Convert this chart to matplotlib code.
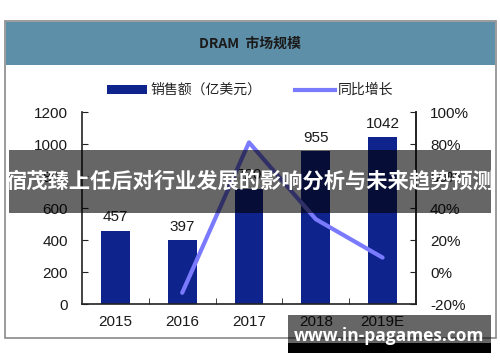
import matplotlib
matplotlib.use("Agg")
import matplotlib.pyplot as plt
from matplotlib.patches import Rectangle
from matplotlib.lines import Line2D

plt.rcParams['font.family'] = ['Liberation Sans', 'Noto Sans CJK SC', 'DejaVu Sans']

years = ["2015", "2016", "2017", "2018", "2019E"]
sales = [457, 397, 720, 955, 1042]
growth_years_idx = [1, 2, 3, 4]
growth = [-13, 81, 33, 9]
left_ticks = [0, 200, 400, 600, 800, 1000, 1200]
right_ticks = [-20, 0, 20, 40, 60, 80, 100]

W, H = 500, 362
fig = plt.figure(figsize=(W / 100, H / 100), dpi=100)
fig.patch.set_facecolor('white')

def px(x0, y0, x1, y1):
    return [x0 / W, 1 - y1 / H, (x1 - x0) / W, (y1 - y0) / H]

# frame and header
bg = fig.add_axes([0, 0, 1, 1])
bg.set_xlim(0, W); bg.set_ylim(H, 0); bg.axis('off')
bg.add_patch(Rectangle((5, 21), 491, 317, facecolor='white', edgecolor='#8a8a8a', lw=1.2))
bg.add_patch(Rectangle((5.6, 21.6), 489.8, 43, facecolor='#5E8FA8', edgecolor='none'))
bg.text(250, 44, "DRAM  市场规模", ha='center', va='center', fontsize=10, fontweight='bold',
        color='#1a1a1a', family=['Noto Sans CJK SC', 'DejaVu Sans'])
# legend
bg.add_patch(Rectangle((107, 85), 40, 9, facecolor='#0F238C', edgecolor='none'))
bg.text(150, 89.5, "销售额（亿美元）", ha='left', va='center', fontsize=10, color='#222222',
        family=['Noto Sans CJK SC', 'DejaVu Sans'])
bg.add_line(Line2D([295, 335], [89.5, 89.5], color='#7A7AFF', lw=3))
bg.text(338, 89.5, "同比增长", ha='left', va='center', fontsize=10, color='#222222',
        family=['Noto Sans CJK SC', 'DejaVu Sans'])

ax = fig.add_axes(px(82, 112, 416, 304))
x = list(range(len(years)))
ax.bar(x, sales, width=0.43, color='#0F238C', zorder=2)
for xi, v in zip(x, sales):
    ax.text(xi, v + 40, str(v), ha='center', va='bottom', fontsize=11, color='#1a1a1a')
ax.set_xlim(-0.5, 4.5)
ax.set_ylim(0, 1200)
ax.set_yticks(left_ticks)
ax.set_yticklabels([str(t) for t in left_ticks], fontsize=11, color='#1a1a1a')
ax.set_xticks(x)
ax.set_xticklabels(years, fontsize=11, color='#1a1a1a')
ax.tick_params(axis='x', length=0, pad=8)
ax.set_xticks([0.5, 1.5, 2.5, 3.5], minor=True)
ax.tick_params(axis='x', which='minor', direction='in', length=4, color='#222222')
ax.tick_params(axis='y', direction='in', length=4, pad=10, color='#222222')
ax.spines['top'].set_visible(False)
for s in ['left', 'bottom', 'right']:
    ax.spines[s].set_color('#222222')
    ax.spines[s].set_linewidth(1.2)

ax2 = ax.twinx()
ax2.plot(growth_years_idx, growth, color='#7A7AFF', lw=3, solid_capstyle='round', zorder=3)
ax2.set_ylim(-20, 100)
ax2.set_yticks(right_ticks)
ax2.set_yticklabels([f"{t}%" for t in right_ticks], fontsize=11, color='#1a1a1a')
ax2.tick_params(axis='y', direction='in', length=4, pad=10, color='#222222')
for s in ['top', 'left', 'bottom']:
    ax2.spines[s].set_visible(False)
ax2.spines['right'].set_color('#222222')
ax2.spines['right'].set_linewidth(1.2)

# overlays
ov = fig.add_axes([0, 0, 1, 1], zorder=10)
ov.set_xlim(0, W); ov.set_ylim(H, 0); ov.axis('off')
ov.patch.set_alpha(0)
ov.add_patch(Rectangle((9, 150), 482, 63, facecolor='black', alpha=0.6, edgecolor='none'))
ov.text(250, 182, "宿茂臻上任后对行业发展的影响分析与未来趋势预测", ha='center', va='center',
        fontsize=15.3, fontweight='bold', color='white', family=['Noto Sans CJK SC', 'DejaVu Sans'])
ov.add_patch(Rectangle((288, 315), 203, 28, facecolor='black', alpha=0.6, edgecolor='none'))
ov.add_patch(Rectangle((288, 343), 203, 10, facecolor='black', edgecolor='none'))
ov.text(389, 336, "www.in-pagames.com", ha='center', va='center', fontsize=12.5,
        fontweight='bold', color='white', family=['Open Sans', 'DejaVu Sans'])

fig.savefig("out.png", dpi=100)
